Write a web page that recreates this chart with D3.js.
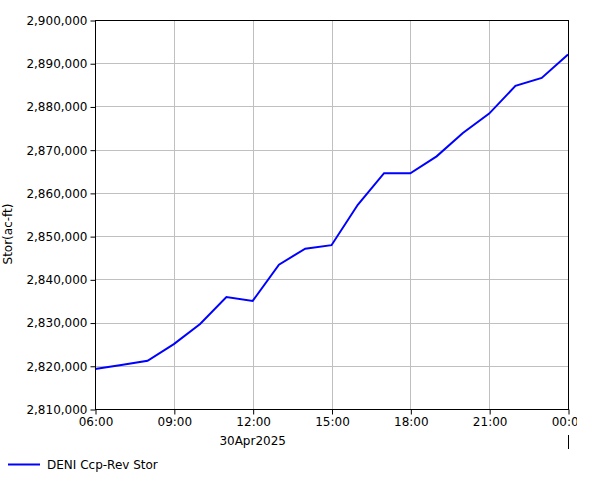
<!DOCTYPE html>
<html><head><meta charset="utf-8">
<script src="https://cdn.jsdelivr.net/npm/d3@7"></script>
<style>body{margin:0;background:#fff}svg{display:block}text{font-family:"DejaVu Sans",sans-serif;font-size:12px;fill:#000}</style>
</head><body>
<script>
const hours = [6,7,8,9,10,11,12,13,14,15,16,17,18,19,20,21,22,23,24];
const stor = [2819250,2820200,2821150,2825000,2829650,2835900,2835000,2843400,2847100,2847900,2857250,2864550,2864550,2868450,2873850,2878350,2884750,2886600,2892000];
const xTicks = [6,9,12,15,18,21,24];
const xTickLabels = ["06:00","09:00","12:00","15:00","18:00","21:00","00:00"];
const yTicks = [2810000,2820000,2830000,2840000,2850000,2860000,2870000,2880000,2890000,2900000];
const dateLabel = "30Apr2025";
const yTitle = "Stor(ac-ft)";
const seriesName = "DENI Ccp-Rev Stor";

const W=601,H=480, L=95, R=568, T=20, B=409;
const svg=d3.select("body").append("svg").attr("width",W).attr("height",H);
const x=d3.scaleLinear().domain([6,24]).range([L,R]);
const y=d3.scaleLinear().domain([2810000,2900000]).range([B,T]);
svg.append("defs").append("clipPath").attr("id","c").append("rect").attr("x",0).attr("y",0).attr("width",577).attr("height",H);
const g=svg.append("g").attr("clip-path","url(#c)");
// grid
g.append("g").selectAll("line").data(xTicks.slice(1,-1)).join("line")
 .attr("x1",d=>Math.round(x(d))+0.5).attr("x2",d=>Math.round(x(d))+0.5).attr("y1",T).attr("y2",B).attr("stroke","#c0c0c0");
g.append("g").selectAll("line").data(yTicks.slice(1,-1)).join("line")
 .attr("y1",d=>Math.round(y(d))+0.5).attr("y2",d=>Math.round(y(d))+0.5).attr("x1",L).attr("x2",R).attr("stroke","#c0c0c0");
// line
g.append("path").datum(hours.map((h,i)=>[h,stor[i]])).attr("fill","none").attr("stroke","#0000ff").attr("stroke-width",2)
 .attr("d",d3.line().x(d=>x(d[0])).y(d=>y(d[1])));
// frame
g.append("rect").attr("x",L+0.5).attr("y",T+0.5).attr("width",R-L).attr("height",B-T).attr("fill","none").attr("stroke","#000");
// axes
const xa=g.append("g").attr("transform",`translate(0.5,${B+0.5})`)
 .call(d3.axisBottom(x).tickValues(xTicks).tickFormat((d,i)=>xTickLabels[i]).tickSize(5).tickPadding(3));
xa.select(".domain").remove();
xa.selectAll("text").attr("font-family","DejaVu Sans").attr("font-size",12).attr("fill","#000");
const ya=g.append("g").attr("transform",`translate(${L+0.5},0.5)`)
 .call(d3.axisLeft(y).tickValues(yTicks).tickFormat(d3.format(",")).tickSize(5).tickPadding(3));
ya.select(".domain").remove();
ya.selectAll("text").attr("font-family","DejaVu Sans").attr("font-size",12).attr("fill","#000");
g.append("text").attr("x",x(12)).attr("y",445).attr("text-anchor","middle").text(dateLabel);
g.append("line").attr("x1",R+0.5).attr("x2",R+0.5).attr("y1",435).attr("y2",449).attr("stroke","#000");
g.append("text").attr("transform","translate(12,234) rotate(-90)").attr("text-anchor","middle").text(yTitle);
// legend
svg.append("line").attr("x1",8).attr("x2",40).attr("y1",464.5).attr("y2",464.5).attr("stroke","#0000ff").attr("stroke-width",2);
svg.append("text").attr("x",47).attr("y",469).text(seriesName);
</script>
</body></html>
